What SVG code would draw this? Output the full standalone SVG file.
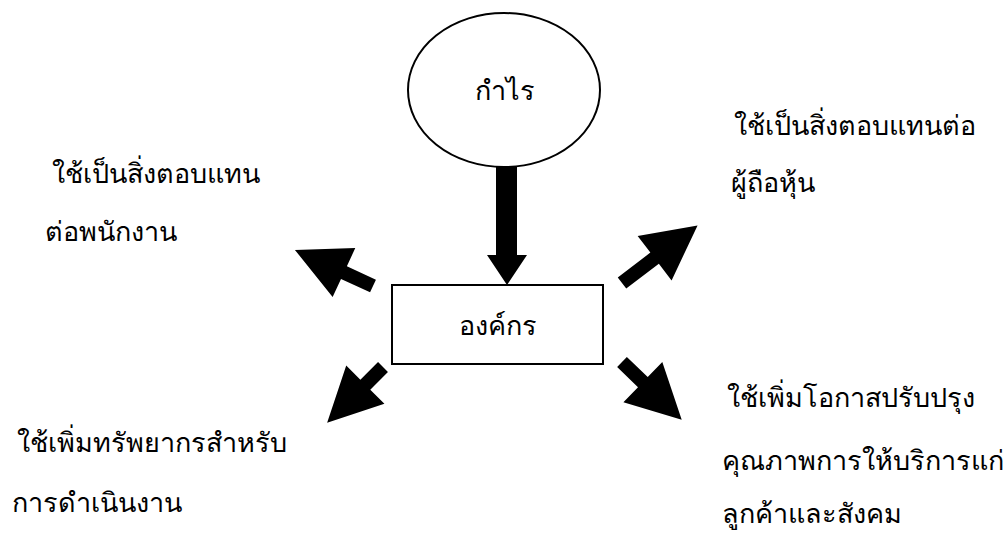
<svg xmlns="http://www.w3.org/2000/svg" width="1007" height="540" viewBox="0 0 1007 540">
<style>
.t{font-family:"Noto Sans","DejaVu Sans",sans-serif;font-size:27px;fill:#000}
.arr{fill:#000}
.node{fill:#fff;stroke:#000;stroke-width:2}
</style>
<rect width="1007" height="540" fill="#fff"/>
<g id="connectors">
<polygon class="arr" points="496,160 517,160 517,255 527,255 507,285 487,255 496,255"/>
<polygon class="arr" transform="translate(373,286) rotate(204.8)" points="0,-7 32,-7 32,-27 86,0 32,27 32,7 0,7"/>
<polygon class="arr" transform="translate(622,283) rotate(-37.3)" points="0,-7 41,-7 41,-28 95,0 41,28 41,7 0,7"/>
<polygon class="arr" transform="translate(383,367) rotate(135)" points="0,-7 25,-7 25,-27 79,0 25,27 25,7 0,7"/>
<polygon class="arr" transform="translate(622,362) rotate(44)" points="0,-7 29,-7 29,-28 83,0 29,28 29,7 0,7"/>
</g>
<g id="node-profit">
<ellipse class="node" cx="504" cy="90" rx="96" ry="77"/>
<text class="t" x="505" y="100" text-anchor="middle">กำไร</text>
</g>
<g id="node-org">
<rect class="node" x="392" y="285" width="211" height="79"/>
<text class="t" x="498" y="335" text-anchor="middle">องค์กร</text>
</g>
<g id="label-employees">
<text class="t" x="52" y="183">ใช้เป็นสิ่งตอบแทน</text>
<text class="t" x="45" y="241">ต่อพนักงาน</text>
</g>
<g id="label-shareholders">
<text class="t" x="734" y="135">ใช้เป็นสิ่งตอบแทนต่อ</text>
<text class="t" x="731" y="192">ผู้ถือหุ้น</text>
</g>
<g id="label-resources">
<text class="t" x="17" y="452">ใช้เพิ่มทรัพยากรสำหรับ</text>
<text class="t" x="12" y="512">การดำเนินงาน</text>
</g>
<g id="label-customers">
<text class="t" x="727" y="407">ใช้เพิ่มโอกาสปรับปรุง</text>
<text class="t" x="722" y="470">คุณภาพการให้บริการแก่</text>
<text class="t" x="722" y="523">ลูกค้าและสังคม</text>
</g>
</svg>
